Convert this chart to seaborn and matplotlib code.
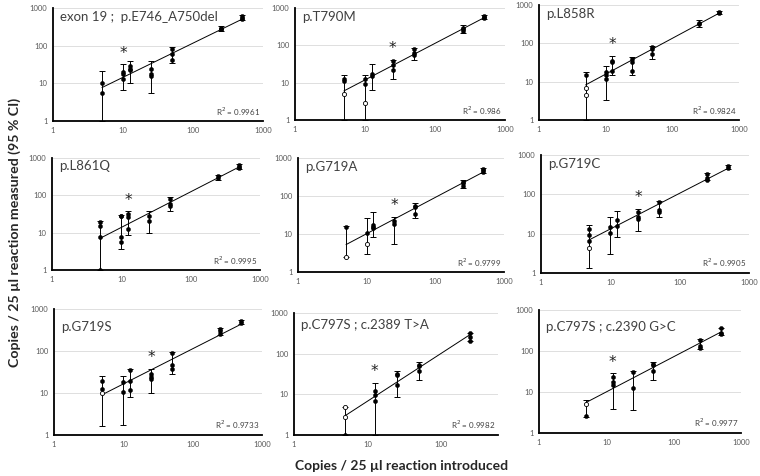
import numpy as np
import pandas as pd
import matplotlib
matplotlib.use("Agg")
import matplotlib.pyplot as plt
import seaborn as sns

# ---- data (copies / 25 ul) ----
# exon 19 ; p.E746_A750del
e19_x = [5, 5, 10, 10, 10, 12.5, 12.5, 12.5, 25, 25, 25, 50, 50, 50, 250, 250, 250, 500, 500, 500]
e19_y = [10.4, 5.7, 19.4, 17.8, 13.1, 29, 24, 22, 24, 17.8, 16, 81, 60, 41, 300, 285, 270, 600, 550, 500]
e19_ox, e19_oy = [], []
e19_bx = [5, 10, 12.5, 25, 50, 250, 500]
e19_lo = [1, 6.6, 10, 5.7, 34, 250, 470]
e19_hi = [21, 32, 38, 40, 95, 330, 650]
e19_star, e19_r2 = 10, "0.9961"

# p.T790M
t790_x = [5, 5, 10, 10, 12.5, 12.5, 25, 25, 25, 50, 50, 50, 250, 250, 250, 500, 500, 500]
t790_y = [12.6, 10.9, 12.4, 9.1, 16.7, 14.8, 37, 30, 21.5, 81, 62, 54, 300, 270, 240, 620, 560, 535]
t790_ox, t790_oy = [5, 10], [4.9, 2.9]
t790_bx = [5, 10, 12.5, 25, 50, 250, 500]
t790_lo = [1, 1, 6.3, 12.8, 40, 215, 500]
t790_hi = [15.8, 15.8, 32, 41, 84, 360, 650]
t790_star, t790_r2 = 25, "0.986"

# p.L858R
l858_x = [5, 10, 10, 10, 12.5, 12.5, 12.5, 25, 25, 25, 50, 50, 50, 250, 250, 500, 500]
l858_y = [14.5, 18.4, 14.5, 11.9, 35, 32, 19.5, 40, 33, 19.5, 82, 70, 52, 340, 310, 670, 610]
l858_ox, l858_oy = [5, 5], [6.9, 4.6]
l858_bx = [5, 10, 12.5, 25, 50, 250, 500]
l858_lo = [1, 3.3, 15.1, 15, 39, 265, 590]
l858_hi = [18.4, 26, 47, 43, 86, 395, 700]
l858_star, l858_r2 = 12.5, "0.9824"

# p.L861Q
l861_x = [5, 5, 5, 5, 10, 10, 10, 10, 12.5, 12.5, 12.5, 25, 25, 50, 50, 50, 250, 250, 500, 500, 500]
l861_y = [19.1, 15, 7.6, 1.03, 28.8, 27.7, 7.8, 5.6, 32.5, 26, 12.7, 28.8, 20.4, 82, 59, 53, 320, 290, 640, 580, 540]
l861_ox, l861_oy = [], []
l861_bx = [5, 10, 12.5, 25, 50, 250, 500]
l861_lo = [1, 3.6, 8.4, 9.9, 37.6, 255, 500]
l861_hi = [20.4, 30, 37.6, 37.6, 89, 360, 700]
l861_star, l861_r2 = 12.5, "0.9995"

# p.G719A
g719a_x = [5, 10, 12.5, 12.5, 12.5, 25, 25, 50, 50, 50, 250, 250, 250, 500, 500, 500]
g719a_y = [15.5, 10.8, 17.2, 15.5, 14, 22, 18.3, 55, 50.5, 33, 240, 215, 185, 525, 470, 417]
g719a_ox, g719a_oy = [5, 10], [2.5, 5.4]
g719a_bx = [5, 10, 12.5, 25, 50, 250, 500]
g719a_lo = [2.5, 3.05, 8.1, 5.6, 25.7, 167, 400]
g719a_hi = [16, 25.7, 38.8, 28.6, 64, 256, 560]
g719a_star, g719a_r2 = 25, "0.9799"

# p.G719C
g719c_x = [5, 5, 5, 10, 10, 12.5, 12.5, 25, 25, 25, 50, 50, 50, 250, 250, 250, 500, 500]
g719c_y = [13.5, 9.1, 6.4, 14.6, 10.3, 22.9, 15.5, 35, 26.8, 23.8, 64, 41, 35, 320, 255, 230, 525, 475]
g719c_ox, g719c_oy = [5], [4.2]
g719c_bx = [5, 10, 12.5, 25, 50, 250, 500]
g719c_lo = [1.34, 3.05, 8.3, 12, 27, 225, 450]
g719c_hi = [16.4, 26, 38.7, 43.6, 67, 340, 560]
g719c_star, g719c_r2 = 25, "0.9905"

# p.G719S
g719s_x = [5, 5, 10, 10, 12.5, 12.5, 12.5, 25, 25, 25, 50, 50, 50, 250, 250, 250, 500, 500]
g719s_y = [19, 12.7, 18.3, 10.6, 34.5, 19, 12.1, 27.8, 24, 22, 90, 45.5, 38, 335, 295, 255, 510, 455]
g719s_ox, g719s_oy = [5], [10.1]
g719s_bx = [5, 10, 12.5, 25, 50, 250, 500]
g719s_lo = [1.63, 1.7, 8.1, 10.1, 27.8, 245, 440]
g719s_hi = [25, 25, 36.5, 38, 93, 350, 540]
g719s_star, g719s_r2 = 25, "0.9733"

# p.C797S ; c.2389 T>A
c2389_x = [5, 12.5, 12.5, 12.5, 25, 25, 25, 50, 50, 50, 250, 250, 250]
c2389_y = [1.02, 12.4, 9.7, 7, 32, 30, 17, 53, 48.5, 38.5, 320, 250, 210]
c2389_ox, c2389_oy = [5, 5], [5, 2.8]
c2389_bx = [5, 12.5, 25, 50, 250]
c2389_lo = [1, 1, 8.8, 22.7, 200]
c2389_hi = [5, 18.8, 38, 61, 330]
c2389_star, c2389_r2 = 12.5, "0.9982"

# p.C797S ; c.2390 G>C
c2390_x = [5, 12.5, 12.5, 12.5, 25, 25, 50, 50, 50, 250, 250, 250, 500, 500, 500]
c2390_y = [2.55, 23.4, 17.6, 14.6, 31, 12.8, 49.5, 45, 32.6, 184, 134, 117, 355, 280, 255]
c2390_ox, c2390_oy = [5], [5.2]
c2390_bx = [5, 12.5, 25, 50, 250, 500]
c2390_lo = [2.5, 3.8, 3.6, 20, 110, 245]
c2390_hi = [6.5, 28.3, 32.6, 54.5, 200, 370]
c2390_star, c2390_r2 = 12.5, "0.9977"

titles = ["exon 19 ;  p.E746_A750del", "p.T790M", "p.L858R",
          "p.L861Q", "p.G719A", "p.G719C",
          "p.G719S", "p.C797S ; c.2389 T>A", "p.C797S ; c.2390 G>C"]

panels = [
    (e19_x, e19_y, e19_ox, e19_oy, e19_bx, e19_lo, e19_hi, e19_star, e19_r2),
    (t790_x, t790_y, t790_ox, t790_oy, t790_bx, t790_lo, t790_hi, t790_star, t790_r2),
    (l858_x, l858_y, l858_ox, l858_oy, l858_bx, l858_lo, l858_hi, l858_star, l858_r2),
    (l861_x, l861_y, l861_ox, l861_oy, l861_bx, l861_lo, l861_hi, l861_star, l861_r2),
    (g719a_x, g719a_y, g719a_ox, g719a_oy, g719a_bx, g719a_lo, g719a_hi, g719a_star, g719a_r2),
    (g719c_x, g719c_y, g719c_ox, g719c_oy, g719c_bx, g719c_lo, g719c_hi, g719c_star, g719c_r2),
    (g719s_x, g719s_y, g719s_ox, g719s_oy, g719s_bx, g719s_lo, g719s_hi, g719s_star, g719s_r2),
    (c2389_x, c2389_y, c2389_ox, c2389_oy, c2389_bx, c2389_lo, c2389_hi, c2389_star, c2389_r2),
    (c2390_x, c2390_y, c2390_ox, c2390_oy, c2390_bx, c2390_lo, c2390_hi, c2390_star, c2390_r2),
]

# panel boxes in pixels: left, right, top, bottom (x max, title y)
boxes = [
    (53, 263, 8, 121, 1000, 0.92), (295, 505, 8, 120, 1000, 0.92), (539, 739, 5, 120, 1000, 0.92),
    (52, 260, 158, 270, 1000, 0.93), (298, 504, 158, 272, 1000, 0.92), (541, 749, 155, 273, 1000, 0.92),
    (54, 262, 309, 435, 1000, 0.86), (294, 498, 313, 435, 600, 0.90), (539, 741, 310, 433, 1000, 0.86),
]

sns.set_style("white")
plt.rcParams["font.family"] = ["Lato", "DejaVu Sans"]

W, H = 760, 476
fig = plt.figure(figsize=(W / 100, H / 100), dpi=100)

ticks = [1, 10, 100, 1000]
for i, (p, b) in enumerate(zip(panels, boxes)):
    x, y, ox, oy, bx, lo, hi, star, r2 = p
    l, r, t, btm, xmax, ty = b
    ax = fig.add_axes([l / W, 1 - btm / H, (r - l) / W, (btm - t) / H])
    ax.set_xscale("log")
    ax.set_yscale("log")
    ax.set_xlim(1, xmax)
    ax.set_ylim(1, 1000)

    # error bars (95 % CI)
    bx_a, lo_a, hi_a = np.array(bx), np.array(lo), np.array(hi)
    mid = np.sqrt(lo_a * hi_a)
    ax.errorbar(bx_a, mid, yerr=[mid - lo_a, hi_a - mid], fmt="none",
                ecolor="black", elinewidth=0.7, capsize=2, capthick=0.7, zorder=2)

    # measured points
    df = pd.DataFrame({"x": x, "y": y})
    sns.scatterplot(data=df, x="x", y="y", ax=ax, color="black", s=9,
                    edgecolor="black", linewidth=0.3, zorder=3)
    if ox:
        dfo = pd.DataFrame({"x": ox, "y": oy})
        sns.scatterplot(data=dfo, x="x", y="y", ax=ax, color="white", s=9,
                        edgecolor="black", linewidth=0.6, zorder=3)

    # power trendline
    allx = np.array(list(x) + list(ox), dtype=float)
    ally = np.array(list(y) + list(oy), dtype=float)
    k, c = np.polyfit(np.log10(allx), np.log10(ally), 1)
    fx = np.array([min(bx), max(bx)], dtype=float)
    ax.plot(fx, 10 ** (c + k * np.log10(fx)), color="black", lw=0.7, zorder=2)

    # asterisk above the flagged concentration
    si = bx.index(star)
    ax.text(star, hi[si] * 1.25, "*", ha="center", va="bottom", fontsize=11,
            color="#222222", family="DejaVu Sans")

    ax.text(0.035, ty, titles[i], transform=ax.transAxes, ha="left", va="center",
            fontsize=9.5, color="#404040")
    ax.text(0.985, 0.03, "R$^2$ = " + r2, transform=ax.transAxes, ha="right",
            va="bottom", fontsize=5.8, color="#404040")

    ax.set_xticks([tk for tk in ticks if tk <= xmax])
    ax.set_xticklabels([str(tk) for tk in ticks if tk <= xmax])
    ax.set_yticks(ticks)
    ax.set_yticklabels([str(tk) for tk in ticks])
    ax.minorticks_off()
    ax.tick_params(axis="both", length=0, labelsize=5.5, labelcolor="#595959", pad=4)
    ax.grid(axis="y", color="#d9d9d9", lw=0.6)
    ax.grid(axis="x", visible=False)
    ax.set_axisbelow(True)
    for s in ["top", "right"]:
        ax.spines[s].set_visible(False)
    for s in ["left", "bottom"]:
        ax.spines[s].set_color("black")
        ax.spines[s].set_linewidth(1.3)
    ax.set_xlabel("")
    ax.set_ylabel("")

fig.text(0.528, 1 - 466 / H, "Copies / 25 µl reaction introduced", ha="center",
         va="center", fontsize=10, fontweight="bold")
fig.text(15 / W, 1 - 232 / H, "Copies / 25 µl reaction measured (95 % CI)",
         rotation=90, ha="center", va="center", fontsize=10.2, fontweight="bold")

fig.savefig("out.png", dpi=100)
